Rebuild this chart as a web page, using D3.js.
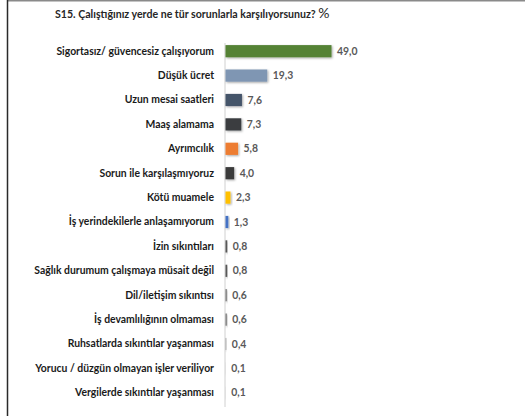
<!DOCTYPE html>
<html>
<head>
<meta charset="utf-8">
<script src="https://cdn.jsdelivr.net/npm/d3@7"></script>
<style>
  body { margin: 0; background: #fff; }
  svg { display: block; }
</style>
</head>
<body>
<div id="chart"></div>
<script>
const categories = [
  'Sigortasız/ güvencesiz çalışıyorum',
  'Düşük ücret',
  'Uzun mesai saatleri',
  'Maaş alamama',
  'Ayrımcılık',
  'Sorun ile karşılaşmıyoruz',
  'Kötü muamele',
  'İş yerindekilerle anlaşamıyorum',
  'İzin sıkıntıları',
  'Sağlık durumum çalışmaya müsait değil',
  'Dil/iletişim sıkıntısı',
  'İş devamlılığının olmaması',
  'Ruhsatlarda sıkıntılar yaşanması',
  'Yorucu / düzgün olmayan işler veriliyor',
  'Vergilerde sıkıntılar yaşanması'
];
const values = [49.0, 19.3, 7.6, 7.3, 5.8, 4.0, 2.3, 1.3, 0.8, 0.8, 0.6, 0.6, 0.4, 0.1, 0.1];
const barColors = ['#548235', '#7f96b3', '#44546a', '#3a3d40', '#ed7d31', '#3b3b3b', '#ffc000',
  '#4472c4', '#595959', '#595959', '#767676', '#767676', '#a5a5a5', '#cfcfcf', '#cfcfcf'];

const w = 525;
const h = 416;
const x0 = 225;
const font = 'Lato, "Open Sans", sans-serif';

const svg = d3.select('#chart')
  .append('svg')
  .attr('width', w)
  .attr('height', h);

const defs = svg.append('defs');
const shadow = defs.append('filter')
  .attr('id', 'shadow')
  .attr('x', '-20%').attr('y', '-30%')
  .attr('width', '160%').attr('height', '180%');
shadow.append('feDropShadow')
  .attr('dx', 1).attr('dy', 1)
  .attr('stdDeviation', 0.8)
  .attr('flood-color', '#000')
  .attr('flood-opacity', 0.35);

// frame
svg.append('line')
  .attr('x1', 7).attr('x2', w).attr('y1', 0.5).attr('y2', 0.5)
  .attr('stroke', '#8a8a8a').attr('stroke-width', 2);
svg.append('line')
  .attr('x1', 7.5).attr('x2', 7.5).attr('y1', 0).attr('y2', h)
  .attr('stroke', '#2a2a2a').attr('stroke-width', 1.5);

// title
const title = svg.append('text')
  .attr('x', 55)
  .attr('y', 18)
  .attr('font-family', font)
  .attr('font-weight', 'bold')
  .attr('font-size', 10.6)
  .attr('fill', '#262626')
  .text('S15. Çalıştığınız yerde ne tür sorunlarla karşılıyorsunuz? ');
title.append('tspan')
  .attr('font-size', 14)
  .attr('font-weight', 'normal')
  .text('%');

const xScale = d3.scaleLinear()
  .domain([0, 49])
  .range([x0, 331]);

const yScale = d3.scaleBand()
  .domain(categories)
  .range([39, 405])
  .paddingInner(0.5)
  .paddingOuter(0.25);

const yAxis = d3.axisLeft(yScale).tickSize(0).tickPadding(11);

const gy = svg.append('g')
  .attr('class', 'y-axis')
  .attr('transform', `translate(${x0},0)`)
  .call(yAxis);

gy.select('.domain')
  .attr('d', `M0,43V407`)
  .attr('stroke', '#d0d0d0')
  .attr('stroke-width', 1);

gy.selectAll('.tick text')
  .attr('font-family', font)
  .attr('font-weight', 'bold')
  .attr('font-size', 10.4)
  .attr('fill', '#1a1a1a');

svg.append('g')
  .selectAll('rect')
  .data(values)
  .enter()
  .append('rect')
  .attr('x', xScale(0) + 0.5)
  .attr('y', (d, i) => yScale(categories[i]))
  .attr('width', d => Math.max(0, xScale(d) - xScale(0)))
  .attr('height', yScale.bandwidth())
  .attr('fill', (d, i) => barColors[i])
  .attr('filter', 'url(#shadow)');

svg.append('g')
  .selectAll('text')
  .data(values)
  .enter()
  .append('text')
  .attr('x', d => xScale(d) + 6)
  .attr('y', (d, i) => yScale(categories[i]) + yScale.bandwidth() / 2)
  .attr('dy', '0.35em')
  .attr('font-family', font)
  .attr('font-weight', 'bold')
  .attr('font-size', 10.4)
  .attr('fill', '#595959')
  .text(d => d.toFixed(1).replace('.', ','));
</script>
</body>
</html>
